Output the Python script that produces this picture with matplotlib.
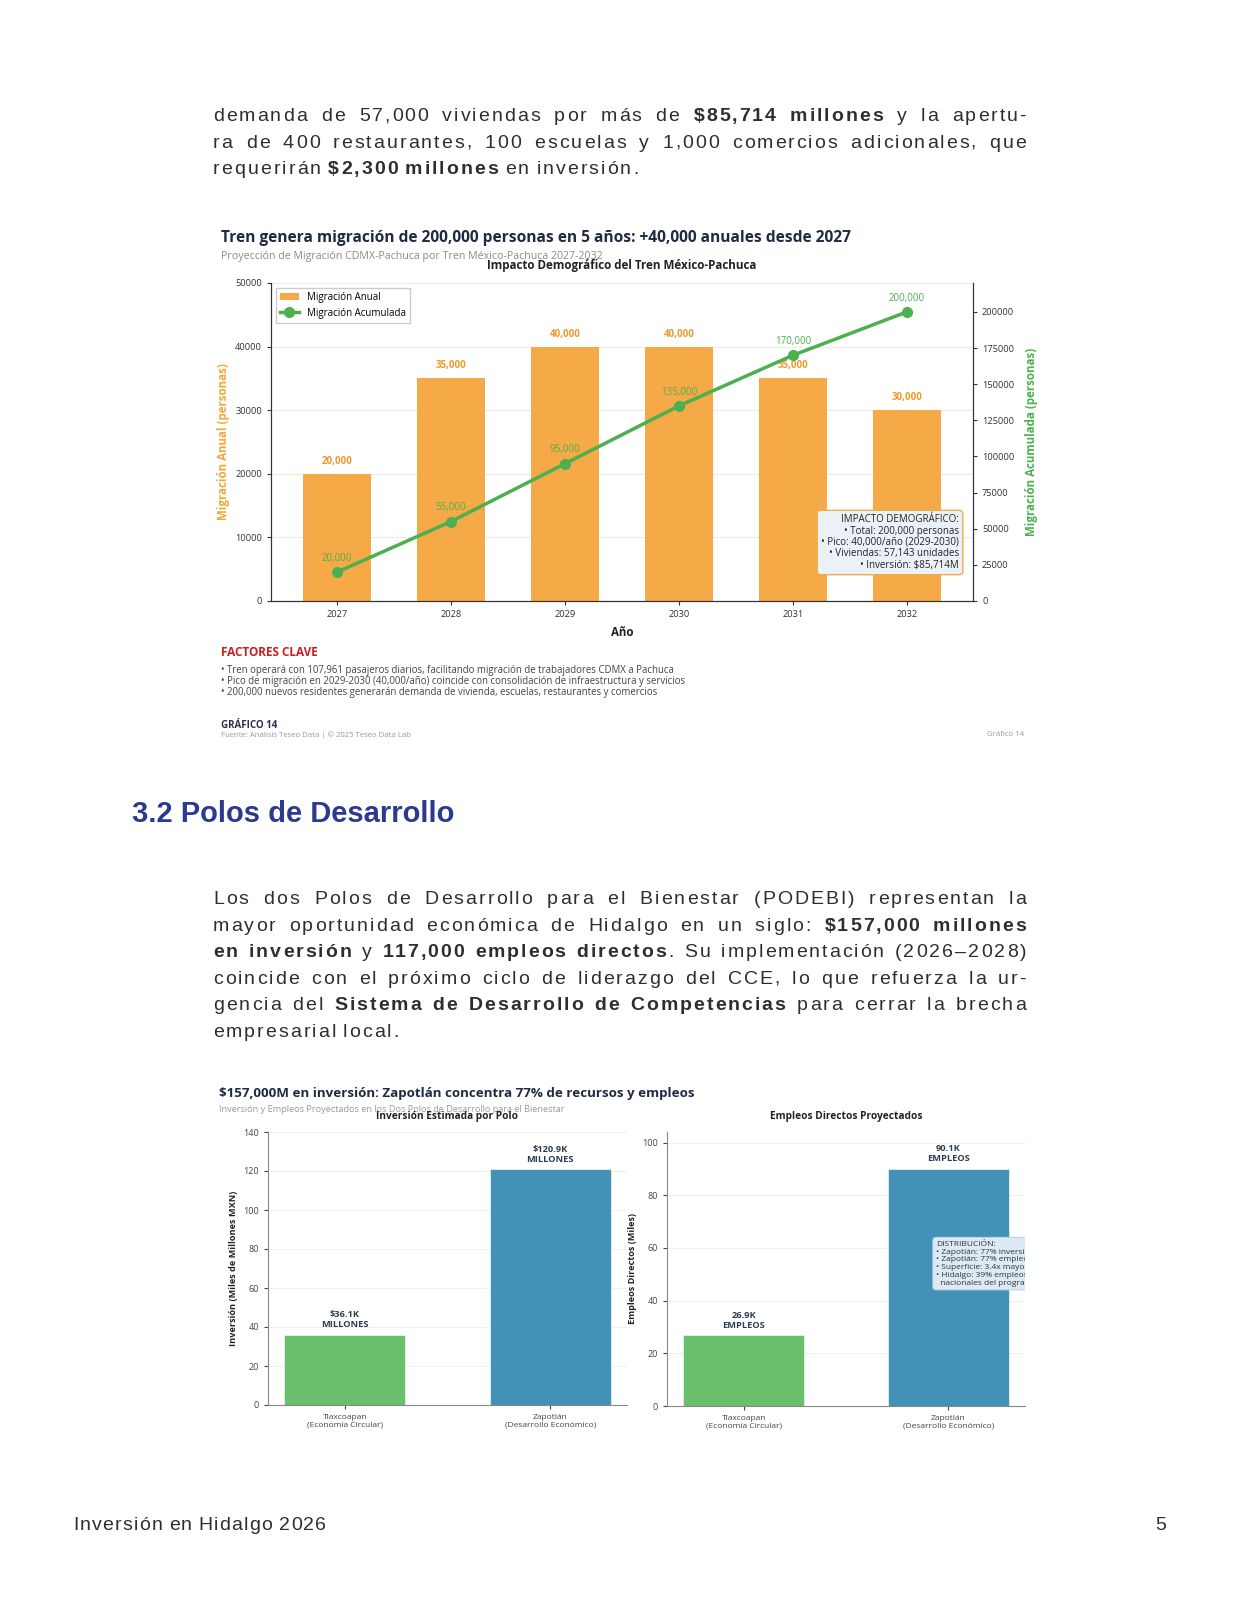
import matplotlib
matplotlib.use("Agg")
import matplotlib.pyplot as plt
from matplotlib.font_manager import FontProperties
import numpy as np

W, H = 1240, 1605

# ---- data: chart 14 (migration) ----
years = [2027, 2028, 2029, 2030, 2031, 2032]
annual = [20000, 35000, 40000, 40000, 35000, 30000]
cumulative = [20000, 55000, 95000, 135000, 170000, 200000]

# ---- data: polos de desarrollo ----
polos = ['Tlaxcoapan\n(Economía Circular)', 'Zapotlán\n(Desarrollo Económico)']
inversion = [36.1, 120.9]
empleos = [26.9, 90.1]
inv_labels = ['$36.1K\nMILLONES', '$120.9K\nMILLONES']
emp_labels = ['26.9K\nEMPLEOS', '90.1K\nEMPLEOS']

par1 = [
    "demanda de 57,000 viviendas por más de **$85,714 millones** y la apertu-",
    "ra de 400 restaurantes, 100 escuelas y 1,000 comercios adicionales, que",
    "requerirán **$2,300 millones** en inversión.",
]
par2 = [
    "Los dos Polos de Desarrollo para el Bienestar (PODEBI) representan la",
    "mayor oportunidad económica de Hidalgo en un siglo: **$157,000 millones**",
    "**en inversión** y **117,000 empleos directos**. Su implementación (2026–2028)",
    "coincide con el próximo ciclo de liderazgo del CCE, lo que refuerza la ur-",
    "gencia del **Sistema de Desarrollo de Competencias** para cerrar la brecha",
    "empresarial local.",
]
factores = [
    "• Tren operará con 107,961 pasajeros diarios, facilitando migración de trabajadores CDMX a Pachuca",
    "• Pico de migración en 2029-2030 (40,000/año) coincide con consolidación de infraestructura y servicios",
    "• 200,000 nuevos residentes generarán demanda de vivienda, escuelas, restaurantes y comercios",
]

BODY = 'Liberation Sans'
CH = 'Open Sans'
plt.rcParams['font.family'] = [CH, 'DejaVu Sans']

ORANGE = '#f5a947'
GREEN = '#4cb050'
NAVY = '#1f2a44'

fig = plt.figure(figsize=(12.4, 16.05), dpi=100)
fig.patch.set_facecolor('white')
renderer = fig.canvas.get_renderer()


def fx(x):
    return x / W


def fy(y):
    return 1 - y / H


def axes_px(l, t, r, b):
    return fig.add_axes([l / W, 1 - b / H, (r - l) / W, (b - t) / H])


_cache = {}


def tw(s, bold, size):
    key = (s, bold, size)
    if key not in _cache:
        fp = FontProperties(family=BODY, size=size, weight='bold' if bold else 'normal')
        _cache[key] = renderer.get_text_width_height_descent(s, fp, ismath=False)[0]
    return _cache[key]


def parse(line):
    words = [[]]
    for i, seg in enumerate(line.split('**')):
        bold = i % 2 == 1
        for j, p in enumerate(seg.split(' ')):
            if j > 0:
                words.append([])
            if p:
                words[-1].append((p, bold))
    return [w for w in words if w]


def draw_line(line, y, x0, x1, justify, size, ls, color='#2e2e2e', ha='left'):
    words = parse(line)
    widths = []
    for w in words:
        widths.append(sum(tw(p, b, size) + len(p) * ls for p, b in w) - ls)
    space = tw('a a', False, size) - tw('aa', False, size) + ls
    if justify and len(words) > 1:
        gap = (x1 - x0 - sum(widths)) / (len(words) - 1)
    else:
        gap = space
    if ha == 'right':
        x0 = x1 - sum(widths) - gap * (len(words) - 1)
    x = x0
    for w, ww in zip(words, widths):
        for txt, bold in w:
            for k, ch in enumerate(txt):
                cx = x + tw(txt[:k + 1], bold, size) - tw(ch, bold, size) + k * ls
                fig.text(fx(cx), fy(y), ch, fontsize=size, family=BODY,
                         weight='bold' if bold else 'normal', color=color, va='baseline')
            x += tw(txt, bold, size) + len(txt) * ls
        x += gap - ls


body_size = 14
for i, line in enumerate(par1):
    draw_line(line, 121 + i * 26.6, 213, 1026, i < len(par1) - 1, body_size, 2.0)
for i, line in enumerate(par2):
    draw_line(line, 904 + i * 26.6, 213, 1026, i < len(par2) - 1, body_size, 2.0)

fig.text(fx(132), fy(814), '3.2 Polos de Desarrollo', family=BODY, weight='bold',
         fontsize=21, color='#2b3990', va='center')
draw_line('Inversión en Hidalgo 2026', 1530, 73, 600, False, 14, 1.2)
draw_line('5', 1530, 0, 1166, False, 14, 1.2, ha='right')

# ================= Chart 14 =================
fig.text(fx(221), fy(238), 'Tren genera migración de 200,000 personas en 5 años: +40,000 anuales desde 2027',
         fontsize=11.2, weight='bold', color=NAVY, va='center')
fig.text(fx(221), fy(257), 'Proyección de Migración CDMX-Pachuca por Tren México-Pachuca 2027-2032',
         fontsize=7.7, color='#8a8a8a', va='center')
fig.text(fx(622), fy(265), 'Impacto Demográfico del Tren México-Pachuca',
         fontsize=8.4, weight='bold', color='#222222', va='center', ha='center')

ax1 = axes_px(271, 283, 973, 601)
x = np.arange(len(years))
ax1.bar(x, annual, width=0.6, color=ORANGE, label='Migración Anual', zorder=2)
for xi, v in zip(x, annual):
    ax1.text(xi, v + 1100, f'{v:,}', ha='center', va='bottom', fontsize=7,
             weight='bold', color='#eb9a2e')
ax1.set_ylim(0, 50000)
ax1.set_yticks(range(0, 50001, 10000))
ax1.set_xticks(x)
ax1.set_xticklabels([str(y) for y in years])
ax1.tick_params(labelsize=6.7, colors='#333333', length=3)
ax1.yaxis.grid(True, color='#ececec', lw=0.8)
ax1.set_axisbelow(True)
ax1.set_ylabel('Migración Anual (personas)', fontsize=8.3, weight='bold', color='#f0a838')
ax1.set_xlabel('Año', fontsize=8.3, weight='bold', color='#222222', labelpad=5)

ax1b = ax1.twinx()
ax1b.plot(x, cumulative, color=GREEN, lw=2.5, marker='o', ms=7, label='Migración Acumulada', zorder=3)
for xi, v in zip(x, cumulative):
    ax1b.annotate(f'{v:,}', (xi, v), xytext=(0, 6), textcoords='offset points',
                  ha='center', va='bottom', fontsize=7, color=GREEN)
ax1b.set_ylim(0, 220000)
ax1b.set_yticks(range(0, 200001, 25000))
ax1b.tick_params(labelsize=6.7, colors='#333333', length=3)
ax1b.set_ylabel('Migración Acumulada (personas)', fontsize=8.3, weight='bold', color=GREEN, labelpad=8)
for a in (ax1, ax1b):
    a.spines['top'].set_visible(False)
    for s in ('left', 'right', 'bottom'):
        a.spines[s].set_color('#333333')
        a.spines[s].set_linewidth(0.8)

h1, l1 = ax1.get_legend_handles_labels()
h2, l2 = ax1b.get_legend_handles_labels()
ax1b.legend(h1 + h2, l1 + l2, loc='upper left', fontsize=7, frameon=True,
            edgecolor='#cccccc', framealpha=1, fancybox=False)

ax1b.text(0.980, 0.095,
          'IMPACTO DEMOGRÁFICO:\n• Total: 200,000 personas\n• Pico: 40,000/año (2029-2030)\n'
          '• Viviendas: 57,143 unidades\n• Inversión: $85,714M',
          transform=ax1b.transAxes, ha='right', va='bottom', multialignment='right',
          fontsize=7, color='#222222', linespacing=1.05, zorder=5,
          bbox=dict(boxstyle='round,pad=0.4', fc='#eaf2f8', ec=ORANGE, lw=1))

fig.text(fx(221), fy(652), 'FACTORES CLAVE', fontsize=8.5, weight='bold', color='#cc1f1f', va='center')
for i, t in enumerate(factores):
    fig.text(fx(221), fy(670 + i * 11.2), t, fontsize=6.9, color='#444444', va='center')
fig.text(fx(221), fy(726), 'GRÁFICO 14', fontsize=7, weight='bold', color='#2a2f4f', va='center')
fig.text(fx(221), fy(735), 'Fuente: Análisis Teseo Data | © 2025 Teseo Data Lab',
         fontsize=5.6, color='#999999', va='center')
fig.text(fx(1024), fy(735), 'Gráfico 14', fontsize=5.6, color='#999999', va='center', ha='right')

# ================= Polos chart =================
fig.text(fx(219), fy(1094), '$157,000M en inversión: Zapotlán concentra 77% de recursos y empleos',
         fontsize=9.6, weight='bold', color=NAVY, va='center')
fig.text(fx(219), fy(1109), 'Inversión y Empleos Proyectados en los Dos Polos de Desarrollo para el Bienestar',
         fontsize=6.6, color='#9a9a9a', va='center')

bar_cols = ['#6abf6b', '#4391b6']
ax2 = axes_px(268, 1132, 627, 1405)
ax3 = axes_px(667, 1132, 1025, 1406)
specs = [
    (ax2, inversion, inv_labels, 140, 'Inversión (Miles de Millones MXN)', 'Inversión Estimada por Polo', 447),
    (ax3, empleos, emp_labels, 104, 'Empleos Directos (Miles)', 'Empleos Directos Proyectados', 846),
]
for ax, vals, labs, top, ylab, title, tx in specs:
    xp = np.arange(len(polos))
    ax.bar(xp, vals, width=0.59, color=bar_cols, edgecolor='#e6f0f5', lw=0.6, zorder=2)
    for xi, v, lb in zip(xp, vals, labs):
        ax.annotate(lb, (xi, v), xytext=(0, 4), textcoords='offset points', ha='center',
                    va='bottom', fontsize=6.7, weight='bold', color='#2c3e50', linespacing=1.15)
    ax.set_ylim(0, top)
    ax.set_yticks(range(0, int(top) + 1, 20))
    ax.set_xticks(xp)
    ax.set_xticklabels(polos, fontsize=6, color='#444444', linespacing=1.1)
    ax.tick_params(axis='y', labelsize=6.5, colors='#444444', length=3)
    ax.tick_params(axis='x', colors='#444444', length=3)
    ax.yaxis.grid(True, color='#f0f0f0', lw=0.8)
    ax.set_axisbelow(True)
    ax.set_ylabel(ylab, fontsize=6.6, weight='bold', color='#222222', labelpad=4)
    for s in ('top', 'right'):
        ax.spines[s].set_visible(False)
    for s in ('left', 'bottom'):
        ax.spines[s].set_color('#888888')
        ax.spines[s].set_linewidth(0.8)
    fig.text(fx(tx), fy(1116), title, fontsize=7.3, weight='bold', color='#222222',
             va='center', ha='center')

ax3.text(0.752, 0.603,
         'DISTRIBUCIÓN:\n• Zapotlán: 77% inversión\n• Zapotlán: 77% empleos\n'
         '• Superficie: 3.4x mayor\n• Hidalgo: 39% empleos\n  nacionales del programa',
         transform=ax3.transAxes, ha='left', va='top', fontsize=6.0, color='#333333',
         linespacing=1.15, clip_on=True, zorder=5,
         bbox=dict(boxstyle='round,pad=0.4', fc='#ddeaf5', ec='#b9d3e6', lw=0.8))

fig.savefig('out.png', dpi=100, facecolor='white')
